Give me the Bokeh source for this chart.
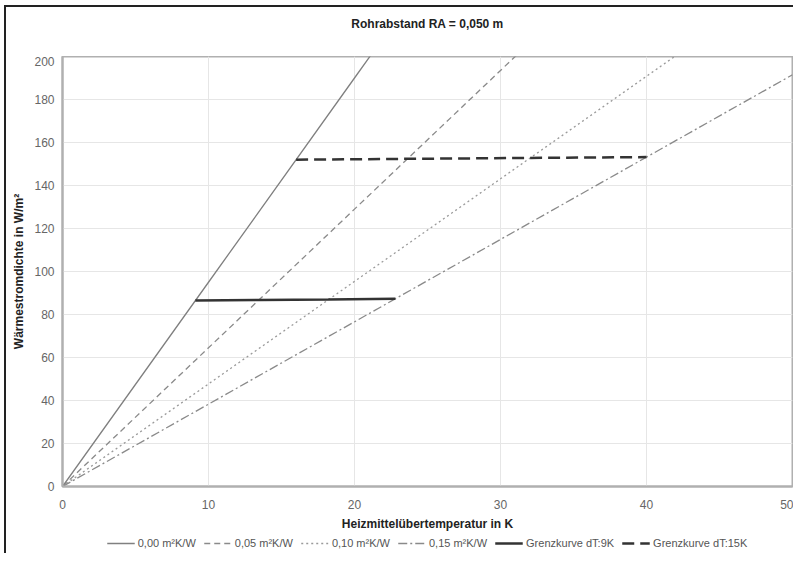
from bokeh.plotting import figure
from bokeh.layouts import column
from bokeh.models import Legend, LegendItem, Range1d, FixedTicker, Label
from bokeh.embed import file_html
from bokeh.resources import INLINE

# Data
x_pts = [0, 10, 20, 30, 40, 50]
r000 = [0, 95.0, 190.0, 285.0, 380.0, 475.0]
r005 = [0, 64.5, 129.0, 193.5, 258.0, 322.5]
r010 = [0, 47.7, 95.4, 143.1, 190.8, 238.5]
r015 = [0, 38.3, 76.6, 114.9, 153.2, 191.5]

g9_x = [9.1, 13.5, 18.2, 22.8]
g9_y = [86.5, 86.8, 87.0, 87.3]
g15_x = [16.0, 23.6, 31.7, 40.0]
g15_y = [152.0, 152.4, 152.8, 153.2]

labels = ["0,00 m²K/W", "0,05 m²K/W", "0,10 m²K/W", "0,15 m²K/W",
          "Grenzkurve dT:9K", "Grenzkurve dT:15K"]
x_ticks = [0, 10, 20, 30, 40, 50]
y_ticks = list(range(0, 201, 20))
title_text = "Rohrabstand RA = 0,050 m"

FONT = "Liberation Sans"
styles = [
    dict(line_color="#808080", line_width=1.3),
    dict(line_color="#8a8a8a", line_width=1.3, line_dash="6 4"),
    dict(line_color="#9a9a9a", line_width=1.3, line_dash="2 3"),
    dict(line_color="#8a8a8a", line_width=1.3, line_dash="9 3 2 3"),
    dict(line_color="#333333", line_width=2.5),
    dict(line_color="#333333", line_width=2.5, line_dash="12 6"),
]
series = [(x_pts, r000), (x_pts, r005), (x_pts, r010), (x_pts, r015),
          (g9_x, g9_y), (g15_x, g15_y)]


def strip(h, extra_styles):
    f = figure(output_backend="svg", toolbar_location=None,
               frame_width=728, frame_height=h, title_location=None,
               x_axis_type=None, y_axis_type=None,
               x_range=Range1d(0, 1), y_range=Range1d(0, 1))
    f.styles = extra_styles
    f.min_border_left = 56
    f.min_border_right = 3
    f.min_border_top = 0
    f.min_border_bottom = 0
    f.outline_line_color = None
    f.grid.visible = False
    f.background_fill_color = "white"
    f.border_fill_color = "white"
    return f


# title strip
TH = 49
t = strip(TH, {"margin-left": "4px", "margin-top": "5px",
               "border-left": "2px solid #222", "border-top": "2px solid #222"})
t.add_layout(Label(x=0.5, y=1 - 16 / TH, text=title_text, text_align="center",
                   text_baseline="middle", text_font=FONT, text_font_size="12px",
                   text_font_style="bold", text_color="#222"))

# main chart
p = figure(output_backend="svg", toolbar_location=None,
           frame_width=728, frame_height=430, title_location=None,
           x_range=Range1d(0, 50), y_range=Range1d(0, 200))
p.styles = {"margin-left": "4px", "border-left": "2px solid #222"}
p.min_border_left = 56
p.min_border_right = 3
p.min_border_top = 0
p.min_border_bottom = 0

p.outline_line_color = "#b0b0b0"
p.outline_line_width = 2
p.background_fill_color = "white"
p.border_fill_color = "white"

p.xgrid.ticker = FixedTicker(ticks=x_ticks)
p.ygrid.ticker = FixedTicker(ticks=y_ticks)
p.grid.grid_line_color = "#e6e6e6"
p.grid.grid_line_width = 1

for ax in (p.xaxis[0], p.yaxis[0]):
    ax.axis_line_color = "#b0b0b0"
    ax.axis_line_width = 2
    ax.major_tick_line_color = None
    ax.minor_tick_line_color = None
    ax.major_tick_out = 0
    ax.major_tick_in = 0
    ax.minor_tick_out = 0
    ax.minor_tick_in = 0
    ax.major_label_text_font = FONT
    ax.major_label_text_font_size = "12px"
    ax.major_label_text_color = "#666"
    ax.axis_label_text_font = FONT
    ax.axis_label_text_font_size = "12px"
    ax.axis_label_text_font_style = "bold"
    ax.axis_label_text_color = "#222"
p.xaxis.ticker = FixedTicker(ticks=x_ticks)
p.yaxis.ticker = FixedTicker(ticks=y_ticks)
p.xaxis.axis_label = "Heizmittelübertemperatur in K"
p.yaxis.axis_label = "Wärmestromdichte in W/m²"
p.xaxis.major_label_standoff = 13
p.yaxis.major_label_standoff = 8
p.xaxis.axis_label_standoff = 5
p.yaxis.axis_label_standoff = 5

for (xs, ys), st in zip(series, styles):
    p.line(xs, ys, **st)

# legend strip below the chart (same series, drawn outside its visible range)
q = strip(20, {"margin-left": "4px", "border-left": "2px solid #222"})
q.x_range = Range1d(-3, -2)
q.y_range = Range1d(-3, -2)
lrs = [q.line(xs, ys, **st) for (xs, ys), st in zip(series, styles)]
items = [LegendItem(label=l, renderers=[r]) for l, r in zip(labels, lrs)]
legend = Legend(items=items, orientation="horizontal", location="center",
                label_text_font=FONT, label_text_font_size="11px",
                label_text_color="#555", glyph_width=28, glyph_height=10,
                label_height=12, label_standoff=3, spacing=8, padding=0,
                margin=0, border_line_color=None, background_fill_alpha=0)
q.add_layout(legend, "center")

layout = column(t, p, q, spacing=0)
open("out.html", "w").write(file_html(layout, INLINE))
